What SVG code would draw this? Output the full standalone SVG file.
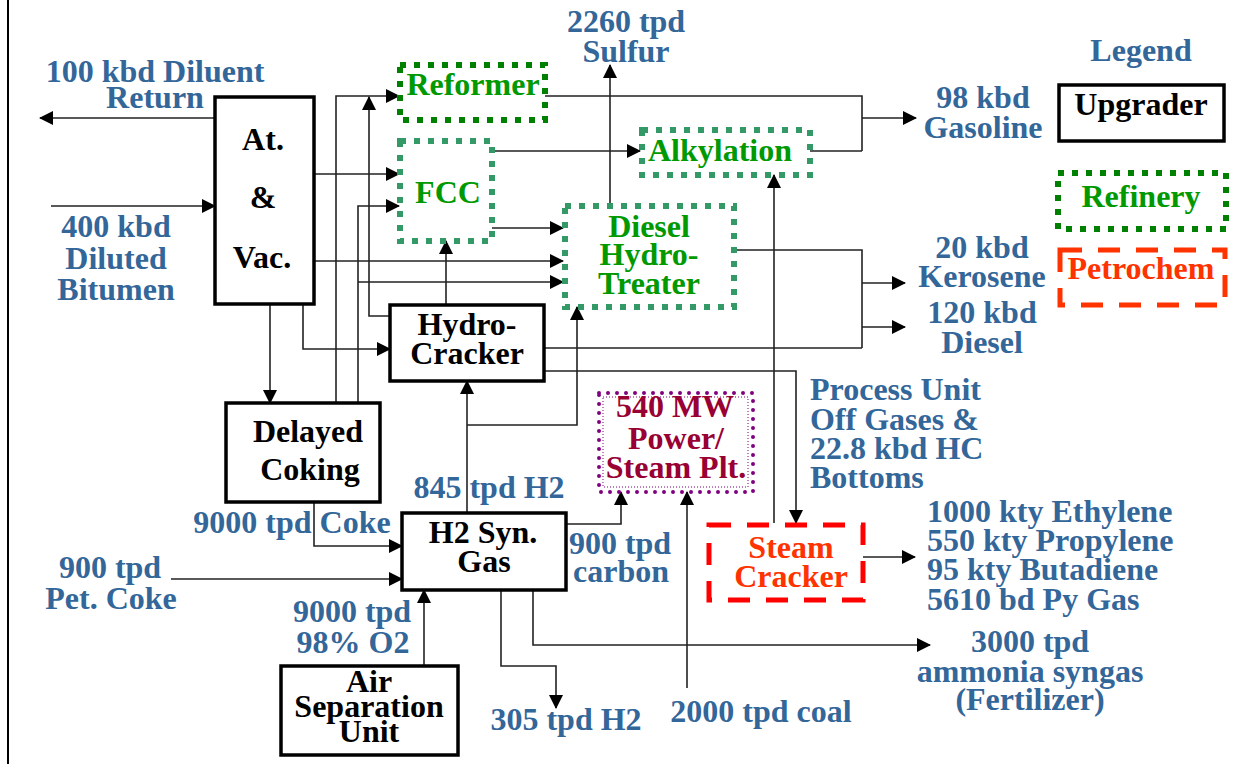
<svg xmlns="http://www.w3.org/2000/svg" width="1253" height="764" viewBox="0 0 1253 764">
<style>
text{font-family:"Liberation Serif","Times New Roman",serif;font-weight:bold;font-size:32px}
.b{fill:#336699}
.k{fill:#000}
.g{fill:#009900}
.r{fill:#FF3300}
.p{fill:#990033}
.m{text-anchor:middle}
.up{fill:#fff;stroke:#000;stroke-width:3.5}
.rf{fill:none;stroke:#008000;stroke-width:6;stroke-dasharray:6 8}
.rf2{fill:none;stroke:#339966;stroke-width:6;stroke-dasharray:6 8}
.pc{fill:none;stroke:#FF0000;stroke-width:5;stroke-dasharray:22 16}
.pc2{fill:none;stroke:#FF3300;stroke-width:5;stroke-dasharray:22 16}
.c path{fill:none;stroke:#222;stroke-width:1.6}
.c .a{marker-end:url(#ah)}
</style>
<defs>
<marker id="ah" markerUnits="userSpaceOnUse" markerWidth="14" markerHeight="14" refX="13" refY="7" orient="auto">
<path d="M0,0 L14,7 L0,14 Z" fill="#000"/>
</marker>
</defs>
<rect width="1253" height="764" fill="#fff"/>
<line x1="8" y1="0" x2="8" y2="764" stroke="#000" stroke-width="2"/>

<g class="c" id="connectors">
<path class="a" d="M215,118 H40"/>
<path class="a" d="M51,206 H215"/>
<path class="a" d="M314,174 H399"/>
<path class="a" d="M314,261 H563"/>
<path class="a" d="M270,304 V403"/>
<path class="a" d="M303,304 V349 H390"/>
<path class="a" d="M336,403 V96 H399"/>
<path class="a" d="M358,403 V206 H399"/>
<path class="a" d="M358,282 H563"/>
<path class="a" d="M390,316 H369 V97"/>
<path class="a" d="M446,305 V241"/>
<path class="a" d="M492,151 H640"/>
<path class="a" d="M492,228 H563"/>
<path d="M545,96 H862 V151"/>
<path d="M810,151 H862"/>
<path class="a" d="M862,118 H916"/>
<path class="a" d="M610,204 V65"/>
<path d="M734,250 H862 V348"/>
<path d="M544,348 H862"/>
<path class="a" d="M862,283 H905"/>
<path class="a" d="M862,327 H905"/>
<path class="a" d="M544,371 H796 V523"/>
<path class="a" d="M774,523 V175"/>
<path class="a" d="M863,557 H915"/>
<path class="a" d="M467,513 V381"/>
<path class="a" d="M467,425 H577 V307"/>
<path class="a" d="M314,502 V546 H402"/>
<path class="a" d="M171,579 H402"/>
<path class="a" d="M424,666 V590"/>
<path class="a" d="M566,524 H621 V492"/>
<path class="a" d="M687,688 V492"/>
<path class="a" d="M501,590 V666 H556 V708"/>
<path class="a" d="M533,590 V645 H930"/>
</g>

<g id="atvac">
<rect class="up" x="215" y="97" width="99" height="207"/>
<text class="k m" x="263" y="150">At.</text>
<text class="k m" x="263" y="208">&amp;</text>
<text class="k m" x="262" y="268">Vac.</text>
</g>
<g id="reformer">
<rect class="rf" x="400" y="65" width="145" height="55"/>
<text class="g m" x="473" y="95">Reformer</text>
</g>
<g id="fcc">
<rect class="rf2" x="400" y="141" width="92" height="100"/>
<text class="g m" x="448" y="203">FCC</text>
</g>
<g id="alkylation">
<rect class="rf2" x="642" y="130" width="168" height="45"/>
<text class="g m" x="720" y="161">Alkylation</text>
</g>
<g id="dht">
<rect class="rf2" x="565" y="206" width="169" height="101"/>
<text class="g m" x="649" y="237">Diesel</text>
<text class="g m" x="649" y="265">Hydro-</text>
<text class="g m" x="649" y="294">Treater</text>
</g>
<g id="hydrocracker">
<rect class="up" x="390" y="305" width="154" height="76"/>
<text class="k m" x="467" y="335">Hydro-</text>
<text class="k m" x="467" y="364">Cracker</text>
</g>
<g id="coking">
<rect class="up" x="226" y="403" width="154" height="99"/>
<text class="k m" x="308" y="442">Delayed</text>
<text class="k m" x="310" y="480">Coking</text>
</g>
<g id="h2syngas">
<rect class="up" x="402" y="513" width="164" height="77"/>
<text class="k m" x="483" y="543">H2 Syn.</text>
<text class="k m" x="484" y="572">Gas</text>
</g>
<g id="airsep">
<rect class="up" x="281" y="666" width="177" height="89"/>
<text class="k m" x="369" y="692">Air</text>
<text class="k m" x="369" y="717">Separation</text>
<text class="k m" x="369" y="742">Unit</text>
</g>
<g id="power">
<rect x="599" y="393" width="154" height="99" fill="none" stroke="#800080" stroke-width="4" stroke-linecap="round" stroke-dasharray="0 9"/>
<rect x="603" y="397" width="145" height="90" fill="none" stroke="#800080" stroke-width="1" stroke-dasharray="1 2"/>
<text class="p m" x="675" y="417">540 MW</text>
<text class="p m" x="676" y="449">Power/</text>
<text class="p m" x="676" y="478">Steam Plt.</text>
</g>
<g id="steamcracker">
<rect class="pc" x="709" y="525" width="154" height="75"/>
<text class="r m" x="791" y="558">Steam</text>
<text class="r m" x="791" y="587">Cracker</text>
</g>

<g id="legend">
<text class="b m" x="1141" y="61">Legend</text>
<rect class="up" x="1059" y="85" width="165" height="56"/>
<text class="k m" x="1141" y="115">Upgrader</text>
<rect class="rf" x="1058" y="173" width="168" height="56"/>
<text class="g m" x="1141" y="207">Refinery</text>
<rect class="pc2" x="1060" y="250" width="165" height="55"/>
<text class="r m" x="1141" y="279">Petrochem</text>
</g>

<g id="labels">
<text class="b m" x="155" y="82">100 kbd Diluent</text>
<text class="b m" x="155" y="108">Return</text>
<text class="b m" x="116" y="237">400 kbd</text>
<text class="b m" x="116" y="269">Diluted</text>
<text class="b m" x="116" y="300">Bitumen</text>
<text class="b m" x="626" y="32">2260 tpd</text>
<text class="b m" x="626" y="62">Sulfur</text>
<text class="b m" x="983" y="108">98 kbd</text>
<text class="b m" x="983" y="138">Gasoline</text>
<text class="b m" x="982" y="258">20 kbd</text>
<text class="b m" x="982" y="287">Kerosene</text>
<text class="b m" x="982" y="323">120 kbd</text>
<text class="b m" x="982" y="353">Diesel</text>
<text class="b" x="810" y="400">Process Unit</text>
<text class="b" x="810" y="430">Off Gases &amp;</text>
<text class="b" x="810" y="459">22.8 kbd HC</text>
<text class="b" x="810" y="488">Bottoms</text>
<text class="b" x="927" y="522">1000 kty Ethylene</text>
<text class="b" x="927" y="551">550 kty Propylene</text>
<text class="b" x="927" y="580">95 kty Butadiene</text>
<text class="b" x="927" y="610">5610 bd Py Gas</text>
<text class="b m" x="1030" y="652">3000 tpd</text>
<text class="b m" x="1030" y="682">ammonia syngas</text>
<text class="b m" x="1030" y="710">(Fertilizer)</text>
<text class="b m" x="761" y="722">2000 tpd coal</text>
<text class="b m" x="566" y="730">305 tpd H2</text>
<text class="b m" x="352" y="622">9000 tpd</text>
<text class="b m" x="353" y="653">98% O2</text>
<text class="b m" x="110" y="578">900 tpd</text>
<text class="b m" x="111" y="609">Pet. Coke</text>
<text class="b m" x="620" y="554">900 tpd</text>
<text class="b m" x="621" y="582">carbon</text>
<text class="b m" x="489" y="498">845 tpd H2</text>
<text class="b m" x="292" y="533">9000 tpd Coke</text>
</g>
</svg>
